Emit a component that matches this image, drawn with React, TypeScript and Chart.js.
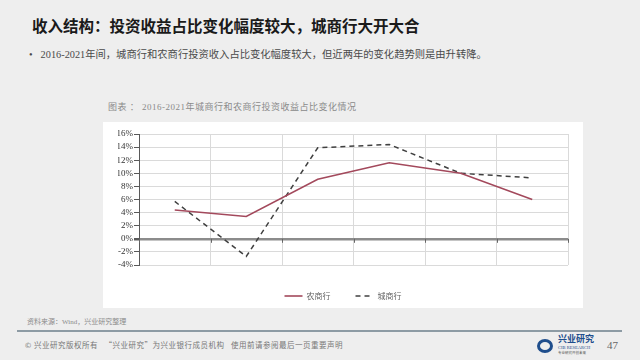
import React, { useEffect, useRef } from "react";
import { Chart, registerables } from "chart.js";

Chart.register(...registerables);

const years = ["2016", "2017", "2018", "2019", "2020", "2021"];
const ruralBanks = [4.4, 3.4, 9.1, 11.6, 10.0, 6.0];
const cityBanks = [5.7, -2.7, 13.9, 14.4, 10.0, 9.3];
const seriesNames = ["农商行", "城商行"];
const yMin = -4;
const yMax = 16;
const yStep = 2;

const zeroTicks = {
  id: "zeroTicks",
  beforeDatasetsDraw(chart: any) {
    const xs = chart.scales.x;
    const ys = chart.scales.y;
    const y0 = ys.getPixelForValue(0);
    const ctx = chart.ctx;
    ctx.save();
    ctx.strokeStyle = "#666666";
    ctx.lineWidth = 1;
    for (let i = 0; i <= years.length; i++) {
      const px = Math.round(xs.getPixelForValue(i - 0.5)) + 0.5;
      ctx.beginPath();
      ctx.moveTo(px, y0);
      ctx.lineTo(px, y0 + 4);
      ctx.stroke();
    }
    ctx.restore();
  },
};

function LineChart() {
  const ref = useRef<HTMLCanvasElement>(null);
  useEffect(() => {
    if (!ref.current) return;
    const chart = new Chart(ref.current, {
      type: "line",
      data: {
        labels: years,
        datasets: [
          {
            label: seriesNames[0],
            data: ruralBanks,
            borderColor: "#a3495c",
            backgroundColor: "#a3495c",
            borderWidth: 1.6,
            pointRadius: 0,
            tension: 0,
          },
          {
            label: seriesNames[1],
            data: cityBanks,
            borderColor: "#404040",
            backgroundColor: "#404040",
            borderWidth: 1.5,
            borderDash: [5, 4],
            pointRadius: 0,
            tension: 0,
          },
        ],
      },
      options: {
        responsive: false,
        animation: false,
        layout: { padding: { top: 12, right: 15, left: 15, bottom: 0 } },
        plugins: {
          legend: {
            position: "bottom",
            labels: {
              usePointStyle: true,
              pointStyle: "line",
              pointStyleWidth: 18,
              padding: 25,
              color: "#666666",
              font: { family: '"Noto Sans CJK SC", sans-serif', size: 8 },
              generateLabels: (ch: any) => {
                const base = Chart.defaults.plugins.legend.labels.generateLabels(ch);
                return base.map((it: any, i: number) => {
                  const ds = ch.data.datasets[i];
                  return {
                    ...it,
                    pointStyle: "line",
                    lineDash: ds.borderDash || [],
                    lineWidth: ds.borderWidth,
                    strokeStyle: ds.borderColor,
                    fillStyle: ds.borderColor,
                  };
                });
              },
            },
          },
          tooltip: { enabled: false },
        },
        scales: {
          x: {
            offset: true,
            grid: { offset: true, color: "#dadada", lineWidth: 1, drawTicks: false },
            border: { display: false },
            ticks: {
              color: "#333333",
              padding: 5,
              font: { family: '"Liberation Serif", serif', size: 9 },
            },
            afterFit: (s: any) => {
              s.height = 2;
            },
          },
          y: {
            min: yMin,
            max: yMax,
            ticks: {
              stepSize: yStep,
              autoSkip: false,
              color: "#333333",
              padding: 1,
              font: { family: '"Liberation Serif", serif', size: 9 },
              callback: (v: any) => v + "%",
            },
            grid: {
              color: (c: any) => (c.tick && c.tick.value === 0 ? "#8c8c8c" : "#dadada"),
              lineWidth: (c: any) => (c.tick && c.tick.value === 0 ? 2.5 : 1),
              tickColor: "#595959",
              tickLength: 5,
            },
            border: { color: "#595959", width: 1 },
            afterFit: (s: any) => {
              s.width = 21;
            },
          },
        },
      },
      plugins: [zeroTicks],
    } as any);
    return () => chart.destroy();
  }, []);
  return (
    <canvas
      ref={ref}
      width={480}
      height={188}
      style={{ position: "absolute", left: 103, top: 122, width: 480, height: 188 }}
    />
  );
}

export default function App() {
  const cjk = '"Noto Sans CJK SC", sans-serif';
  return (
    <div
      style={{
        position: "fixed",
        left: 0,
        top: 0,
        width: 640,
        height: 360,
        background: "#eeeeee",
        overflow: "hidden",
        fontFamily: cjk,
      }}
    >
      <div
        style={{
          position: "absolute",
          left: 32,
          top: 14,
          fontSize: 15.5,
          fontWeight: 700,
          color: "#1a1a1a",
          whiteSpace: "nowrap",
          lineHeight: "22px",
        }}
      >
        收入结构：投资收益占比变化幅度较大，城商行大开大合
      </div>
      <div
        style={{
          position: "absolute",
          left: 29,
          top: 47,
          fontSize: 10.3,
          color: "#4a4a4a",
          whiteSpace: "nowrap",
          lineHeight: "16px",
          fontFamily: '"Liberation Serif", "Noto Sans CJK SC", serif',
        }}
      >
        <span style={{ marginRight: 8 }}>•</span>
        2016-2021年间，城商行和农商行投资收入占比变化幅度较大，但近两年的变化趋势则是由升转降。
      </div>
      <div
        style={{
          position: "absolute",
          left: 108,
          top: 100,
          fontSize: 9,
          color: "#8a8a8a",
          whiteSpace: "nowrap",
          lineHeight: "14px",
          letterSpacing: 0.5,
          fontFamily: '"Liberation Serif", "Noto Sans CJK SC", serif',
        }}
      >
        图表 ： 2016-2021年城商行和农商行投资收益占比变化情况
      </div>
      <div
        style={{
          position: "absolute",
          left: 103,
          top: 122,
          width: 480,
          height: 186,
          background: "#ffffff",
        }}
      />
      <LineChart />
      <div
        style={{
          position: "absolute",
          left: 27,
          top: 317,
          fontSize: 7,
          color: "#8a8a8a",
          whiteSpace: "nowrap",
          lineHeight: "10px",
          fontFamily: '"Liberation Serif", "Noto Sans CJK SC", serif',
        }}
      >
        资料来源：Wind，兴业研究整理
      </div>
      <div
        style={{
          position: "absolute",
          left: 17,
          top: 330,
          width: 605,
          height: 2,
          background: "#8d9ba4",
        }}
      />
      <div
        style={{
          position: "absolute",
          left: 25,
          top: 340,
          fontSize: 7.5,
          color: "#777777",
          whiteSpace: "nowrap",
          lineHeight: "10px",
          letterSpacing: 0.5,
        }}
      >
        © 兴业研究版权所有&nbsp;&nbsp;&nbsp;“兴业研究”为兴业银行成员机构&nbsp;&nbsp;&nbsp;使用前请参阅最后一页重要声明
      </div>
      <div
        style={{
          position: "absolute",
          left: 537,
          top: 339,
          width: 10,
          height: 8,
          borderRadius: "50%",
          border: "3px solid #1f4e8c",
        }}
      />
      <div
        style={{
          position: "absolute",
          left: 558,
          top: 334,
          fontSize: 9,
          fontWeight: 700,
          color: "#1f4e8c",
          whiteSpace: "nowrap",
          lineHeight: "10px",
        }}
      >
        兴业研究
      </div>
      <div
        style={{
          position: "absolute",
          left: 558,
          top: 345,
          fontSize: 4.5,
          color: "#1f4e8c",
          whiteSpace: "nowrap",
          lineHeight: "5px",
          fontFamily: '"Liberation Serif", serif',
        }}
      >
        CIB RESEARCH
      </div>
      <div
        style={{
          position: "absolute",
          left: 558,
          top: 351,
          fontSize: 3.5,
          color: "#555555",
          whiteSpace: "nowrap",
          lineHeight: "4px",
        }}
      >
        专业研究开创未来
      </div>
      <div
        style={{
          position: "absolute",
          left: 607,
          top: 338,
          fontSize: 11,
          color: "#666666",
          whiteSpace: "nowrap",
          lineHeight: "14px",
          fontFamily: '"Liberation Serif", serif',
        }}
      >
        47
      </div>
    </div>
  );
}
